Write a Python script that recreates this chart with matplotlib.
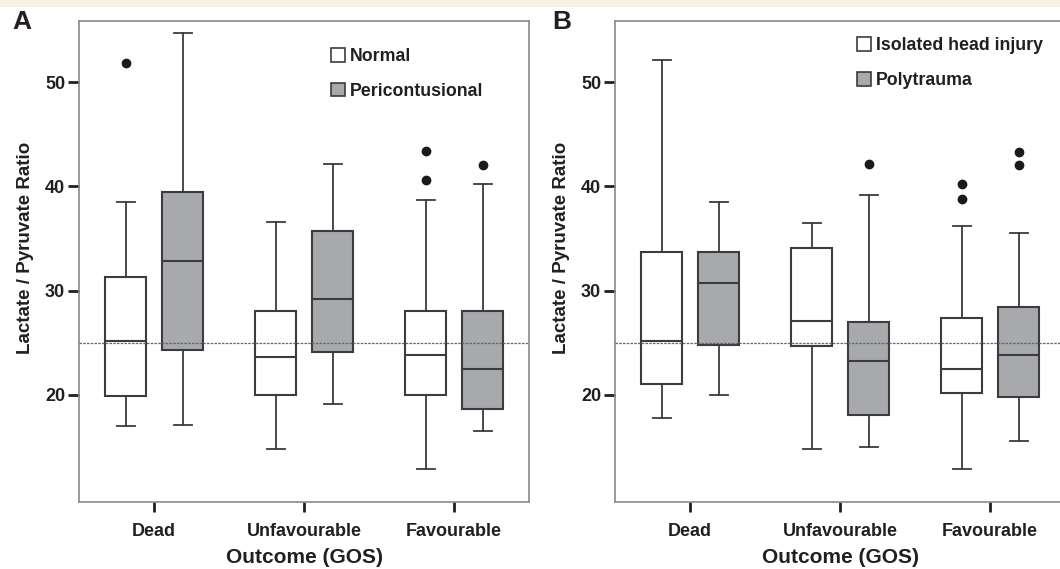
import matplotlib
matplotlib.use('Agg')
import matplotlib.pyplot as plt
from matplotlib.patches import Patch, Rectangle

plt.rcParams['font.family'] = ['Liberation Sans', 'DejaVu Sans']
plt.rcParams['font.weight'] = 'bold'

# Outcome groups
categories = ['Dead', 'Unfavourable', 'Favourable']

# Panel A: normal vs pericontusional tissue
a_labels = ['Normal', 'Pericontusional']
a_normal_q1 = [19.9, 20.0, 20.0]
a_normal_med = [25.2, 23.6, 23.8]
a_normal_q3 = [31.3, 28.05, 28.05]
a_normal_lo = [17.0, 14.8, 12.9]
a_normal_hi = [38.5, 36.6, 38.7]
a_normal_out = [[51.8], [], [43.4, 40.6]]

a_peri_q1 = [24.3, 24.1, 18.7]
a_peri_med = [32.85, 29.2, 22.5]
a_peri_q3 = [39.5, 35.75, 28.05]
a_peri_lo = [17.1, 19.1, 16.5]
a_peri_hi = [54.7, 42.1, 40.2]
a_peri_out = [[], [], [42.05]]

# Panel B: isolated head injury vs polytrauma
b_labels = ['Isolated head injury', 'Polytrauma']
b_iso_q1 = [21.05, 24.7, 20.2]
b_iso_med = [25.2, 27.05, 22.5]
b_iso_q3 = [33.7, 34.1, 27.4]
b_iso_lo = [17.8, 14.8, 12.9]
b_iso_hi = [52.1, 36.5, 36.2]
b_iso_out = [[], [], [40.2, 38.75]]

b_poly_q1 = [24.8, 18.1, 19.8]
b_poly_med = [30.7, 23.25, 23.8]
b_poly_q3 = [33.7, 27.0, 28.4]
b_poly_lo = [20.0, 15.0, 15.55]
b_poly_hi = [38.5, 39.2, 35.55]
b_poly_out = [[], [42.15], [43.3, 42.05]]

threshold = 25
yticks = [20, 30, 40, 50]

EDGE = '#3c3c3c'
GREY_FILL = '#a8a9ac'
SPINE = '#8a8a8a'
TXT = '#231f20'


def make_stats(q1, med, q3, lo, hi, out):
    return [dict(q1=a, med=m, q3=b, whislo=l, whishi=h, fliers=f)
            for a, m, b, l, h, f in zip(q1, med, q3, lo, hi, out)]


def draw_panel(ax, stats1, stats2, labels):
    pos = list(range(len(categories)))
    for stats, off, fill in [(stats1, -0.19, 'white'), (stats2, 0.19, GREY_FILL)]:
        ax.bxp(stats, positions=[p + off for p in pos], widths=0.267,
               capwidths=0.12, patch_artist=True, manage_ticks=False,
               boxprops=dict(facecolor=fill, edgecolor=EDGE, linewidth=1.5),
               medianprops=dict(color=EDGE, linewidth=1.5),
               whiskerprops=dict(color=EDGE, linewidth=1.3),
               capprops=dict(color=EDGE, linewidth=1.3),
               flierprops=dict(marker='o', markersize=6, markerfacecolor='#1a1a1a',
                               markeredgecolor='#1a1a1a'),
               zorder=2)
    ax.axhline(threshold, color='#666666', linewidth=0.9, linestyle=(0, (2, 1)), zorder=3)
    ax.set_xlim(-0.5, 2.5)
    ax.set_ylim(9.74, 55.85)
    ax.set_xticks(pos)
    ax.set_xticklabels(categories, fontsize=13, fontweight='bold', color=TXT)
    ax.set_yticks(yticks)
    ax.set_yticklabels([str(t) for t in yticks], fontsize=13, fontweight='bold', color=TXT)
    ax.tick_params(axis='y', length=8, width=2, color=TXT, pad=2)
    ax.tick_params(axis='x', length=7, width=2, color=TXT, pad=8)
    for s in ax.spines.values():
        s.set_color(SPINE)
        s.set_linewidth(1.2)
    ax.set_xlabel('Outcome (GOS)', fontsize=15, fontweight='bold', color=TXT, labelpad=6)
    ax.set_ylabel('Lactate / Pyruvate Ratio', fontsize=13.5, fontweight='bold', color=TXT)
    ax.yaxis.set_label_coords(-0.1, 0.528)
    handles = [Patch(facecolor='white', edgecolor=EDGE, linewidth=1.2),
               Patch(facecolor=GREY_FILL, edgecolor=EDGE, linewidth=1.2)]
    return handles


fig = plt.figure(figsize=(10.6, 5.69), dpi=100)
W, H = 1060, 569

# cream strip at the top
fig.add_artist(Rectangle((0, 1 - 7 / H), 1, 7 / H, transform=fig.transFigure,
                         facecolor='#f6f2e4', edgecolor='none', zorder=0))

axA = fig.add_axes([79 / W, (H - 502) / H, 450 / W, 481 / H])
axB = fig.add_axes([615 / W, (H - 502) / H, 450 / W, 481 / H])

hA = draw_panel(axA, make_stats(a_normal_q1, a_normal_med, a_normal_q3, a_normal_lo, a_normal_hi, a_normal_out),
                make_stats(a_peri_q1, a_peri_med, a_peri_q3, a_peri_lo, a_peri_hi, a_peri_out), a_labels)
hB = draw_panel(axB, make_stats(b_iso_q1, b_iso_med, b_iso_q3, b_iso_lo, b_iso_hi, b_iso_out),
                make_stats(b_poly_q1, b_poly_med, b_poly_q3, b_poly_lo, b_poly_hi, b_poly_out), b_labels)
axB.spines['right'].set_visible(False)

legkw = dict(frameon=False, loc='upper left', borderpad=0, borderaxespad=0,
             handlelength=0.8, handleheight=0.8, handletextpad=0.25,
             labelspacing=1.0, prop=dict(weight='bold', size=12.8))
legA = axA.legend(hA, a_labels, bbox_to_anchor=(0.56, 0.944), **legkw)
legB = axB.legend(hB, b_labels, bbox_to_anchor=(0.538, 0.966), **legkw)
for leg in (legA, legB):
    for t in leg.get_texts():
        t.set_color(TXT)

fig.text(12 / W, 1 - 29 / H, 'A', fontsize=19, fontweight='bold', color=TXT, va='baseline', ha='left')
fig.text(552 / W, 1 - 29 / H, 'B', fontsize=19, fontweight='bold', color=TXT, va='baseline', ha='left')

fig.savefig('out.png', dpi=100)
